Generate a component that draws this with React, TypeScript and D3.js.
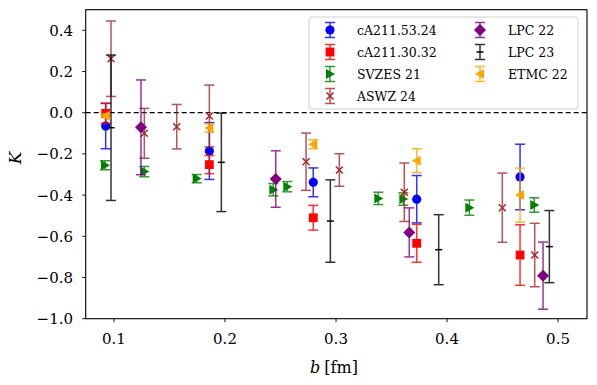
import React from 'react';
import * as d3 from 'd3';

// b [fm], K and the error of K
const blueB = [0.0925, 0.1859, 0.2795, 0.3727, 0.4658];
const blueK = [-0.065, -0.186, -0.338, -0.42, -0.312];
const blueErr = [0.11, 0.138, 0.07, 0.115, 0.159];

const redB = [0.0925, 0.1859, 0.2795, 0.3727, 0.4658];
const redK = [-0.003, -0.252, -0.51, -0.634, -0.691];
const redErr = [0.049, 0.044, 0.06, 0.092, 0.147];

const svzesB = [0.0919, 0.1273, 0.1745, 0.2435, 0.2561, 0.3381, 0.3606, 0.4201, 0.4786];
const svzesK = [-0.255, -0.286, -0.32, -0.374, -0.359, -0.416, -0.419, -0.461, -0.448];
const svzesErr = [0.022, 0.025, 0.02, 0.03, 0.025, 0.03, 0.03, 0.037, 0.035];

const aswzB = [0.0973, 0.1273, 0.1565, 0.1859, 0.273, 0.303, 0.3615, 0.4498, 0.479];
const aswzK = [0.262, -0.1, -0.068, -0.016, -0.238, -0.278, -0.386, -0.461, -0.691];
const aswzErr = [0.183, 0.121, 0.108, 0.15, 0.139, 0.079, 0.142, 0.168, 0.154];

const lpc22B = [0.1243, 0.2457, 0.366, 0.4865];
const lpc22K = [-0.071, -0.322, -0.581, -0.791];
const lpc22Err = [0.23, 0.137, 0.119, 0.163];

const lpc23B = [0.0973, 0.1967, 0.2949, 0.3925, 0.4922];
const lpc23K = [-0.073, -0.241, -0.526, -0.665, -0.65];
const lpc23Err = [0.353, 0.239, 0.2, 0.17, 0.175];

const etmcB = [0.0925, 0.1859, 0.2795, 0.3727, 0.4658];
const etmcK = [-0.015, -0.074, -0.153, -0.233, -0.4];
const etmcErr = [0.01, 0.02, 0.022, 0.058, 0.131];

const xTicks = [0.1, 0.2, 0.3, 0.4, 0.5];
const yTicks = [-1.0, -0.8, -0.6, -0.4, -0.2, 0.0, 0.2, 0.4];

type Marker = 'circle' | 'square' | 'right' | 'x' | 'diamond' | 'bar' | 'left';

const series = [
  { name: 'cA211.53.24', color: '#0000ff', marker: 'circle' as Marker, b: blueB, k: blueK, err: blueErr },
  { name: 'cA211.30.32', color: '#ff0000', marker: 'square' as Marker, b: redB, k: redK, err: redErr },
  { name: 'SVZES 21', color: '#008000', marker: 'right' as Marker, b: svzesB, k: svzesK, err: svzesErr },
  { name: 'ASWZ 24', color: '#a52a2a', marker: 'x' as Marker, b: aswzB, k: aswzK, err: aswzErr },
  { name: 'LPC 22', color: '#800080', marker: 'diamond' as Marker, b: lpc22B, k: lpc22K, err: lpc22Err },
  { name: 'LPC 23', color: '#000000', marker: 'bar' as Marker, b: lpc23B, k: lpc23K, err: lpc23Err },
  { name: 'ETMC 22', color: '#ffa500', marker: 'left' as Marker, b: etmcB, k: etmcK, err: etmcErr },
];

const W = 597;
const H = 385;
const FONT = "'DejaVu Serif', 'Liberation Serif', serif";

const x = d3.scaleLinear().domain([0.0745, 0.5261]).range([85.7, 587]);
const y = d3.scaleLinear().domain([-1.0, 0.5]).range([318.7, 9.7]);
const fmt = d3.format('.1f');

function MarkerShape({ type, cx, cy, color }: { type: Marker; cx: number; cy: number; color: string }) {
  switch (type) {
    case 'circle':
      return <circle cx={cx} cy={cy} r={4.6} fill={color} />;
    case 'square':
      return <rect x={cx - 4.4} y={cy - 4.4} width={8.8} height={8.8} fill={color} />;
    case 'diamond':
      return <path d={`M${cx},${cy - 6}L${cx + 6},${cy}L${cx},${cy + 6}L${cx - 6},${cy}Z`} fill={color} />;
    case 'right':
      return <path d={`M${cx + 5},${cy}L${cx - 4},${cy - 5}L${cx - 4},${cy + 5}Z`} fill={color} />;
    case 'left':
      return <path d={`M${cx - 5},${cy}L${cx + 4},${cy - 5}L${cx + 4},${cy + 5}Z`} fill={color} />;
    case 'x':
      return (
        <path d={`M${cx - 3.5},${cy - 3.5}L${cx + 3.5},${cy + 3.5}M${cx - 3.5},${cy + 3.5}L${cx + 3.5},${cy - 3.5}`}
          stroke={color} strokeWidth={1.5} fill="none" />
      );
    case 'bar':
      return <line x1={cx - 3.5} x2={cx + 3.5} y1={cy} y2={cy} stroke={color} strokeWidth={1.5} />;
  }
  return null;
}

function ErrBar({ cx, y0, y1, color }: { cx: number; y0: number; y1: number; color: string }) {
  const cap = 5;
  return (
    <g stroke={color} strokeWidth={1.5} opacity={0.8}>
      <line x1={cx} x2={cx} y1={y0} y2={y1} />
      <line x1={cx - cap} x2={cx + cap} y1={y0} y2={y0} />
      <line x1={cx - cap} x2={cx + cap} y1={y1} y2={y1} />
    </g>
  );
}

export default function App() {
  const [x0, x1] = x.range();
  const [yb, yt] = y.range();

  // legend: 4 rows in column 1, 3 in column 2
  const legendRows = [30, 52, 74, 96];
  const legendCols = [{ m: 330, t: 357 }, { m: 480, t: 508 }];

  return (
    <svg width={W} height={H} style={{ position: 'absolute', left: 0, top: 0, background: '#fff', fontFamily: FONT }}>
      <rect width={W} height={H} fill="#fff" />

      {/* zero line */}
      <line x1={x0} x2={x1} y1={y(0)} y2={y(0)} stroke="#000" strokeWidth={1.3} strokeDasharray="5,3" />

      {series.map(s => (
        <g key={s.name}>
          {s.b.map((b, i) => (
            <g key={i}>
              <ErrBar cx={x(b)} y0={y(s.k[i] + s.err[i])} y1={y(s.k[i] - s.err[i])} color={s.color} />
              <MarkerShape type={s.marker} cx={x(b)} cy={y(s.k[i])} color={s.color} />
            </g>
          ))}
        </g>
      ))}

      {/* frame */}
      <rect x={x0} y={yt} width={x1 - x0} height={yb - yt} fill="none" stroke="#000" strokeWidth={1.1} />

      {/* x axis */}
      {xTicks.map(t => (
        <g key={t}>
          <line x1={x(t)} x2={x(t)} y1={yb} y2={yb + 3.5} stroke="#000" strokeWidth={0.9} />
          <text x={x(t)} y={344} textAnchor="middle" fontSize={15}>{fmt(t)}</text>
        </g>
      ))}
      <text x={334} y={373} textAnchor="middle" fontSize={16}>
        <tspan fontStyle="italic">b</tspan>
        <tspan dx={4}>[fm]</tspan>
      </text>

      {/* y axis */}
      {yTicks.map(t => (
        <g key={t}>
          <line x1={x0 - 3.5} x2={x0} y1={y(t)} y2={y(t)} stroke="#000" strokeWidth={0.9} />
          <text x={73} y={y(t)} dy="0.36em" textAnchor="end" fontSize={15}>{fmt(t)}</text>
        </g>
      ))}
      <text transform="translate(21,158) rotate(-90)" textAnchor="middle" fontSize={17} fontStyle="italic">K</text>

      {/* legend */}
      <rect x={309} y={17} width={269} height={92} rx={3} fill="#fff" fillOpacity={0.8} stroke="#d0d0d0" strokeWidth={1} />
      {series.map((s, i) => {
        const col = legendCols[i < 4 ? 0 : 1];
        const cy = legendRows[i < 4 ? i : i - 4];
        return (
          <g key={s.name}>
            <ErrBar cx={col.m} y0={cy - 7.5} y1={cy + 7.5} color={s.color} />
            <MarkerShape type={s.marker} cx={col.m} cy={cy} color={s.color} />
            <text x={col.t} y={cy} dy="0.36em" fontSize={12.5}>{s.name}</text>
          </g>
        );
      })}
    </svg>
  );
}
